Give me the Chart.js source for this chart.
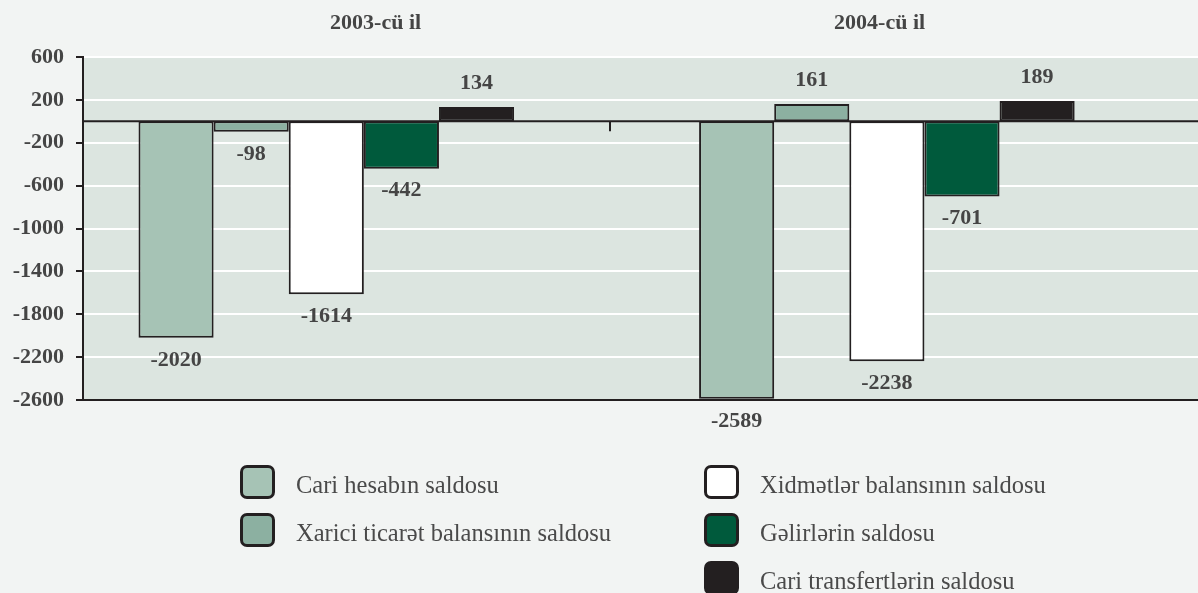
<!DOCTYPE html>
<html>
<head>
<meta charset="utf-8">
<script src="https://cdn.jsdelivr.net/npm/chart.js@4.4.1/dist/chart.umd.min.js"></script>
<style>
  html, body { margin: 0; padding: 0; background: #f2f4f3; }
  #wrap { position: relative; width: 1198px; height: 593px; overflow: hidden; }
  #c { position: absolute; left: 0; top: 0; }
  .lg-item { position: absolute; display: flex; align-items: center; height: 34px; }
  .lg-box { box-sizing: border-box; width: 35px; height: 34px; border: 3px solid #231f20; border-radius: 7px; flex: none; }
  .lg-text { margin-left: 21px; font-family: 'Liberation Serif', 'Times New Roman', serif; font-size: 24.5px; color: #4a4a4a; white-space: nowrap; position: relative; top: 3px; }
</style>
</head>
<body>
<div id="wrap">
  <canvas id="c" width="1198" height="593"></canvas>
</div>
<script>
// ---- data ----
const categories = ['2003-cü il', '2004-cü il'];
const seriesNames = [
  'Cari hesabın saldosu',
  'Xarici ticarət balansının saldosu',
  'Xidmətlər balansının saldosu',
  'Gəlirlərin saldosu',
  'Cari transfertlərin saldosu'
];
const cariHesab = [-2020, -2589];
const xariciTicaret = [-98, 161];
const xidmetler = [-1614, -2238];
const gelirler = [-442, -701];
const cariTransfert = [134, 189];
const yTicks = [600, 200, -200, -600, -1000, -1400, -1800, -2200, -2600];

// ---- styles ----
const colors = ['#a6c3b5', '#8cb0a1', '#ffffff', '#005a3c', '#231f20'];
const dark = '#231f20';
const textColor = '#454545';
const serif = "'Liberation Serif', 'Times New Roman', serif";
const seriesValues = [cariHesab, xariciTicaret, xidmetler, gelirler, cariTransfert];

// layout of x (in category units)
const xMin = -0.434, xMax = 1.555;
const titlePos = [0.088, 0.987];

const datasets = seriesValues.map((vals, si) => ({
  label: seriesNames[si],
  data: vals.map((v, i) => ({ x: i, y: v })),
  backgroundColor: colors[si],
  borderColor: dark,
  borderWidth: 2,
  borderSkipped: false,
  categoryPercentage: 0.67,
  barPercentage: 1.0
}));

const bgPlugin = {
  id: 'plotBg',
  beforeDraw(chart) {
    const { ctx, chartArea: a } = chart;
    ctx.save();
    ctx.fillStyle = '#dce5e0';
    ctx.fillRect(a.left, a.top, a.right - a.left, a.bottom - a.top);
    ctx.restore();
  }
};

const overlayPlugin = {
  id: 'overlay',
  afterDatasetsDraw(chart) {
    const { ctx, chartArea: a } = chart;
    const ys = chart.scales.y, xs = chart.scales.x;
    const y0 = ys.getPixelForValue(0);
    ctx.save();
    ctx.strokeStyle = dark;
    ctx.lineWidth = 2;
    ctx.beginPath();
    ctx.moveTo(a.left, y0);
    ctx.lineTo(a.right, y0);
    for (let i = 0; i < categories.length - 1; i++) {
      const px = Math.round(xs.getPixelForValue(i + 0.5)) + 3;
      ctx.moveTo(px, y0);
      ctx.lineTo(px, y0 + 10);
    }
    ctx.stroke();
    ctx.font = 'bold 22px ' + serif;
    ctx.fillStyle = textColor;
    ctx.textAlign = 'center';
    ctx.textBaseline = 'middle';
    chart.data.datasets.forEach((ds, di) => {
      const meta = chart.getDatasetMeta(di);
      meta.data.forEach((bar, i) => {
        const v = ds.data[i].y;
        const yy = ys.getPixelForValue(v) + (v < 0 ? 22 : -24);
        ctx.fillText(String(v), bar.x, yy);
      });
    });
    ctx.restore();
  }
};

const chart = new Chart(document.getElementById('c'), {
  type: 'bar',
  data: { datasets },
  plugins: [bgPlugin, overlayPlugin],
  options: {
    responsive: false,
    animation: false,
    layout: { padding: { left: 0, right: 0, top: 0, bottom: 193 } },
    plugins: { legend: { display: false }, tooltip: { enabled: false } },
    scales: {
      x: {
        type: 'linear',
        min: xMin, max: xMax,
        offset: false,
        grid: { offset: false },
        display: false,
        afterBuildTicks(scale) { scale.ticks = categories.map((c, i) => ({ value: i })); }
      },
      xTop: {
        type: 'linear',
        position: 'top',
        min: xMin, max: xMax,
        offset: false,
        grid: { display: false, drawTicks: false, offset: false },
        border: { display: false },
        afterBuildTicks(scale) { scale.ticks = titlePos.map(v => ({ value: v })); },
        afterFit(scale) { scale.height = 57; },
        ticks: {
          autoSkip: false,
          maxRotation: 0,
          padding: 20,
          color: textColor,
          font: { family: serif, size: 22, weight: 'bold' },
          callback(value, index) { return categories[index]; }
        }
      },
      y: {
        min: -2600, max: 600,
        afterBuildTicks(scale) { scale.ticks = yTicks.map(v => ({ value: v })); },
        afterFit(scale) { scale.width = 83; },
        border: { display: true, color: dark, width: 2 },
        grid: {
          color: ctx => (ctx.tick && ctx.tick.value === -2600) ? dark : '#ffffff',
          lineWidth: 2,
          tickColor: dark,
          tickWidth: 2,
          tickLength: 7
        },
        ticks: {
          padding: 12,
          color: textColor,
          font: { family: serif, size: 22, weight: 'bold' },
          callback: v => String(v)
        }
      }
    }
  }
});

// ---- legend (HTML, built from the chart's datasets) ----
const legendColumns = [[0, 1], [2, 3, 4]];
const colLeft = [240, 704];
const wrap = document.getElementById('wrap');
legendColumns.forEach((col, ci) => {
  col.forEach((di, ri) => {
    const ds = chart.data.datasets[di];
    const item = document.createElement('div');
    item.className = 'lg-item';
    item.style.left = colLeft[ci] + 'px';
    item.style.top = (465 + ri * 48) + 'px';
    const box = document.createElement('div');
    box.className = 'lg-box';
    box.style.background = ds.backgroundColor;
    const txt = document.createElement('span');
    txt.className = 'lg-text';
    txt.textContent = ds.label;
    item.appendChild(box);
    item.appendChild(txt);
    wrap.appendChild(item);
  });
});
</script>
</body>
</html>
